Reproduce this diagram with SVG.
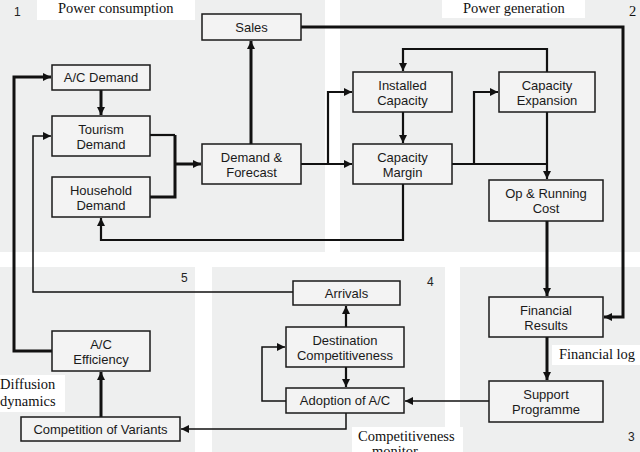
<svg xmlns="http://www.w3.org/2000/svg" width="640" height="452" viewBox="0 0 640 452">
<style>
.pan{fill:#eeefef}
.wb{fill:#ffffff}
.nd rect{fill:#f3f3f3;stroke:#1a1a1a;stroke-width:1.5}
.nd text{font-family:"Liberation Sans",Arial,sans-serif;font-size:13px;fill:#1a1a1a;text-anchor:middle}
.lab{font-family:"Liberation Serif","Times New Roman",serif;font-size:14.5px;fill:#111}
.num{font-family:"Liberation Sans",Arial,sans-serif;font-size:12px;fill:#222}
.c path{fill:none;stroke:#111;stroke-linejoin:miter}
.k{stroke-width:3}
.m{stroke-width:2.2}
.t{stroke-width:1.5}
</style>
<defs>
<marker id="ah" viewBox="0 0 10 10" refX="10" refY="5" markerWidth="9" markerHeight="8" orient="auto" markerUnits="userSpaceOnUse"><path d="M0,0 L10,5 L0,10 z" fill="#111"/></marker>
</defs>
<rect width="640" height="452" fill="#ffffff"/>
<g id="panels">
<rect class="pan" x="0" y="0" width="325" height="252"/>
<rect class="pan" x="340" y="0" width="300" height="252"/>
<rect class="pan" x="0" y="267" width="195" height="185"/>
<rect class="pan" x="212" y="267" width="233" height="185"/>
<rect class="pan" x="460" y="267" width="180" height="185"/>
<rect class="wb" x="37" y="0" width="158" height="20"/>
<rect class="wb" x="442" y="0" width="143" height="18"/>
<rect class="wb" x="0" y="375" width="65" height="37"/>
<rect class="wb" x="352" y="427" width="111" height="25"/>
<rect class="wb" x="552" y="345" width="88" height="20"/>
</g>
<g id="labels">
<text class="lab" x="58" y="13">Power consumption</text>
<text class="lab" x="463" y="13">Power generation</text>
<text class="lab" x="0" y="389">Diffusion</text>
<text class="lab" x="0" y="406">dynamics</text>
<text class="lab" x="358" y="441">Competitiveness</text>
<text class="lab" x="372" y="456">monitor</text>
<text class="lab" x="559" y="359">Financial log</text>
<text class="num" x="14" y="16">1</text>
<text class="lab" x="629" y="16">2</text>
<text class="num" x="628" y="441">3</text>
<text class="num" x="427" y="286">4</text>
<text class="num" x="181" y="282">5</text>
</g>
<g class="c" id="connectors">
<path class="k" d="M301,27 H623 V317 H604" marker-end="url(#ah)"/>
<path class="k" d="M251,144 V41" marker-end="url(#ah)"/>
<path class="m" d="M150,135 H175"/>
<path class="k" d="M150,197 H175 V135"/>
<path class="k" d="M175,164 H201" marker-end="url(#ah)"/>
<path class="k" d="M101,90 V115" marker-end="url(#ah)"/>
<path class="m" d="M301,164 H352" marker-end="url(#ah)"/>
<path class="m" d="M328,164 V92 H352" marker-end="url(#ah)"/>
<path class="m" d="M403,112 V143" marker-end="url(#ah)"/>
<path class="m" d="M547,72 V49 H403 V71" marker-end="url(#ah)"/>
<path class="m" d="M452,164 H547"/>
<path class="m" d="M474,164 V92 H498" marker-end="url(#ah)"/>
<path class="m" d="M547,112 V179" marker-end="url(#ah)"/>
<path class="m" d="M403,184 V240 H101 V218" marker-end="url(#ah)"/>
<path class="k" d="M547,221 V296" marker-end="url(#ah)"/>
<path class="k" d="M547,337 V380" marker-end="url(#ah)"/>
<path class="t" d="M489,401 H405" marker-end="url(#ah)"/>
<path class="t" d="M286,401 H262 V347 H285" marker-end="url(#ah)"/>
<path class="m" d="M346,367 V387" marker-end="url(#ah)"/>
<path class="m" d="M346,327 V306" marker-end="url(#ah)"/>
<path class="t" d="M293,292 H33 V136 H51" marker-end="url(#ah)"/>
<path class="k" d="M52,351 H14 V77 H51" marker-end="url(#ah)"/>
<path class="k" d="M101,417 V372" marker-end="url(#ah)"/>
<path class="t" d="M346,413 V429 H181" marker-end="url(#ah)"/>
</g>
<g class="nd" id="sales"><rect x="202" y="14" width="99" height="26"/><text x="251.5" y="32">Sales</text></g>
<g class="nd" id="demand-forecast"><rect x="202" y="144" width="99" height="40"/><text x="251.5" y="161.5">Demand &amp;</text><text x="251.5" y="176.5">Forecast</text></g>
<g class="nd" id="ac-demand"><rect x="52" y="65" width="98" height="25"/><text x="101" y="82">A/C Demand</text></g>
<g class="nd" id="tourism-demand"><rect x="52" y="116" width="98" height="40"/><text x="101" y="133.5">Tourism</text><text x="101" y="148.5">Demand</text></g>
<g class="nd" id="household-demand"><rect x="52" y="177" width="98" height="40"/><text x="101" y="194.5">Household</text><text x="101" y="209.5">Demand</text></g>
<g class="nd" id="installed-capacity"><rect x="353" y="72" width="99" height="40"/><text x="402.5" y="89.5">Installed</text><text x="402.5" y="104.5">Capacity</text></g>
<g class="nd" id="capacity-margin"><rect x="353" y="144" width="99" height="40"/><text x="402.5" y="161.5">Capacity</text><text x="402.5" y="176.5">Margin</text></g>
<g class="nd" id="capacity-expansion"><rect x="499" y="72" width="96" height="40"/><text x="547" y="89.5">Capacity</text><text x="547" y="104.5">Expansion</text></g>
<g class="nd" id="op-running-cost"><rect x="489" y="180" width="114" height="41"/><text x="546" y="197.5">Op &amp; Running</text><text x="546" y="212.5">Cost</text></g>
<g class="nd" id="financial-results"><rect x="489" y="297" width="114" height="40"/><text x="546" y="314.5">Financial</text><text x="546" y="329.5">Results</text></g>
<g class="nd" id="support-programme"><rect x="489" y="381" width="114" height="41"/><text x="546" y="398.5">Support</text><text x="546" y="413.5">Programme</text></g>
<g class="nd" id="arrivals"><rect x="293" y="281" width="107" height="24"/><text x="346.5" y="297.5">Arrivals</text></g>
<g class="nd" id="destination-competitiveness"><rect x="286" y="327" width="118" height="40"/><text x="345" y="344.5">Destination</text><text x="345" y="359.5">Competitiveness</text></g>
<g class="nd" id="adoption-ac"><rect x="286" y="388" width="118" height="25"/><text x="345" y="405">Adoption of A/C</text></g>
<g class="nd" id="ac-efficiency"><rect x="52" y="331" width="98" height="40"/><text x="101" y="348.5">A/C</text><text x="101" y="363.5">Efficiency</text></g>
<g class="nd" id="competition-variants"><rect x="21" y="417" width="159" height="24"/><text x="100.5" y="433.5">Competition of Variants</text></g>
</svg>
